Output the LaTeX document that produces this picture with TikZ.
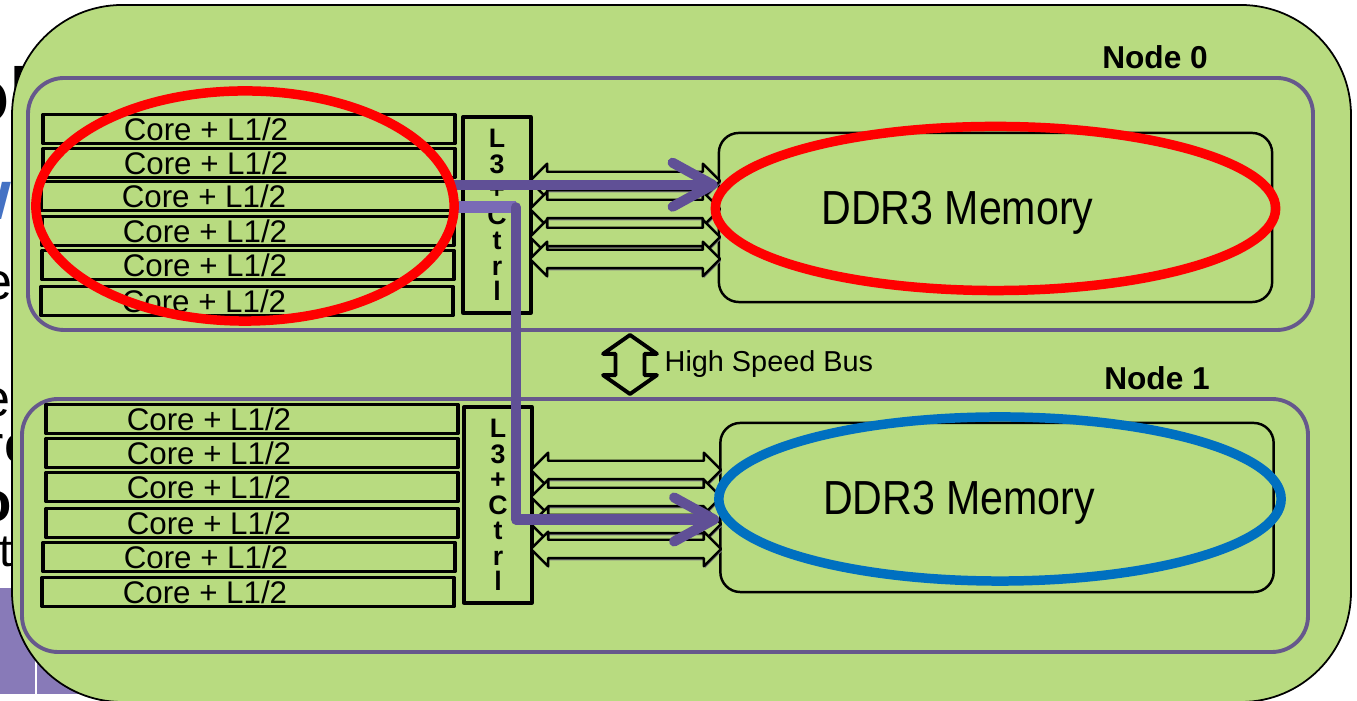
\documentclass[tikz,border=0pt]{standalone}
\usepackage{fontspec}
\setmainfont{Liberation Sans}
\usetikzlibrary{arrows.meta,shapes.arrows,shadows}

\definecolor{verde}{RGB}{184,219,128}
\definecolor{viola}{RGB}{102,88,140}
\definecolor{violafreccia}{RGB}{96,80,150}
\definecolor{violachiaro}{RGB}{122,106,182}
\definecolor{violasfondo}{RGB}{136,122,184}
\definecolor{blu}{RGB}{0,112,192}
\definecolor{blutesto}{RGB}{68,114,196}

\begin{document}
\begin{tikzpicture}[x=0.01cm, y=-0.01cm, line join=round,
    core/.style={draw, line width=1pt, minimum width=4.12cm, minimum height=0.29cm, inner sep=0pt,
        label={[font=\fontsize{8.9}{10}\selectfont, inner sep=0pt, xshift=-0.43cm]center:Core + L1/2}},
    ctrl/.style={draw, line width=0.9pt, minimum width=0.68cm, minimum height=1.96cm, inner sep=0pt,
        align=center, font=\fontsize{7.6}{7.25}\selectfont\bfseries},
    mem/.style={draw, line width=0.7pt, rounded corners=0.2cm, minimum width=5.53cm, minimum height=1.69cm,
        label={[font=\fontsize{13.6}{15}\selectfont, xshift=-0.38cm, yshift=0.05cm]center:\scalebox{0.86}[1]{DDR3 Memory}}},
    canale/.style={double arrow, draw, line width=0.7pt, fill=verde, minimum height=1.9cm, minimum width=0.32cm,
        inner sep=0.08cm, double arrow head extend=0.08cm,
        drop shadow={shadow xshift=0.3pt, shadow yshift=-0.6pt, fill=gray, opacity=1}},
    nodo/.style={draw=viola, line width=1.1pt, rounded corners=0.36cm},
    etichetta/.style={font=\fontsize{9}{10}\selectfont\bfseries},
    freccia/.style={violafreccia, line width=2.85pt, line cap=round, -{Straight Barb[length=0.4cm, width=0.44cm, round]}},
    anello/.style={line width=2.7pt},
]
\useasboundingbox (0,0) rectangle (1357,701);

% Resti della slide sotto
\fill[violasfondo] (0,588) rectangle (35,694);
\fill[violasfondo] (37,588) rectangle (200,694);
\node[anchor=base west, inner sep=0, font=\fontsize{22}{22}\selectfont\bfseries] (f1) at (-38,123) {ol};
\node[anchor=base west, inner sep=0, text=blutesto, font=\fontsize{20}{20}\selectfont\bfseries] (f2) at (-44,220) {w};
\node[anchor=base west, inner sep=0, font=\fontsize{14.8}{15}\selectfont] (f3) at (-17,300) {e};
\node[anchor=base west, inner sep=0, font=\fontsize{14.8}{15}\selectfont] (f4) at (-19,417) {er};
\node[anchor=base west, inner sep=0, font=\fontsize{14.8}{15}\selectfont] (f5) at (-14,463) {rc};
\node[anchor=base west, inner sep=0, font=\fontsize{16}{16}\selectfont\bfseries] (f6) at (-23,522) {o};
\node[anchor=base west, inner sep=0, font=\fontsize{13}{13}\selectfont] (f7) at (-1,567) {t};

% Riquadro verde
\draw[fill=verde, line width=0.5pt, rounded corners=1.1cm] (12,5) rectangle (1351,702);

% Nodi
\draw[nodo] (28,78) rectangle (1313,330);
\draw[nodo] (22,399) rectangle (1308,652);
\node[etichetta] (n0) at (1155,57) {Node 0};
\node[etichetta] (n1) at (1157,378) {Node 1};

% Core
\foreach \i/\x/\y in {1/249/129, 2/249/163, 3/247/196, 4/248/231, 5/248/265, 6/247/301}
    \node[core] (c0\i) at (\x,\y) {};
\foreach \i/\x/\y in {1/252/419, 2/252/453, 3/252/487, 4/252/523, 5/249/557, 6/248/592}
    \node[core] (c1\i) at (\x,\y) {};

% L3 + Ctrl
\node[ctrl] (l30) at (497,215) {L\\3\\+\\C\\t\\r\\l};
\node[ctrl] (l31) at (498,505) {L\\3\\+\\C\\t\\r\\l};

% Memorie
\node[mem] (m0) at (995.5,217.5) {};
\node[mem] (m1) at (997,507.5) {};

% Canali verso la memoria
\foreach \y in {181,209,237,259}
    \node[canale] (a0-\y) at (625,\y) {};
\foreach \y in {470,497,524,549}
    \node[canale] (a1-\y) at (626,\y) {};

% Bus
\node[double arrow, rotate=90, draw, line width=1.1pt, fill=verde, inner sep=0.125cm, minimum height=0.59cm,
    double arrow head extend=0.125cm, double arrow tip angle=110] (bus) at (630,364.5) {};
\node[anchor=west, inner sep=0, font=\fontsize{8.2}{10}\selectfont] (bust) at (664,364) {High Speed Bus};

% Percorsi
\coordinate (p0) at ([yshift=-0.05cm]c03.north east);
\draw[freccia] (p0) -- (p0 -| m0.west);
\coordinate (p1) at ([yshift=0.05cm]c03.south east);
\coordinate (gomito) at ([xshift=0.61cm]p1);
\draw[violachiaro, line width=3.3pt] (p1) -- (gomito);
\draw[freccia] (gomito) |- ([yshift=-0.12cm]m1.west);

% Evidenziazioni
\draw[anello, red] (245,206) ellipse [x radius=2.09cm, y radius=1.15cm];
\draw[anello, red] (995.5,208.5) ellipse [x radius=2.8cm, y radius=0.82cm];
\draw[anello, blu] (1000,499) ellipse [x radius=2.81cm, y radius=0.82cm];

\end{tikzpicture}
\end{document}
